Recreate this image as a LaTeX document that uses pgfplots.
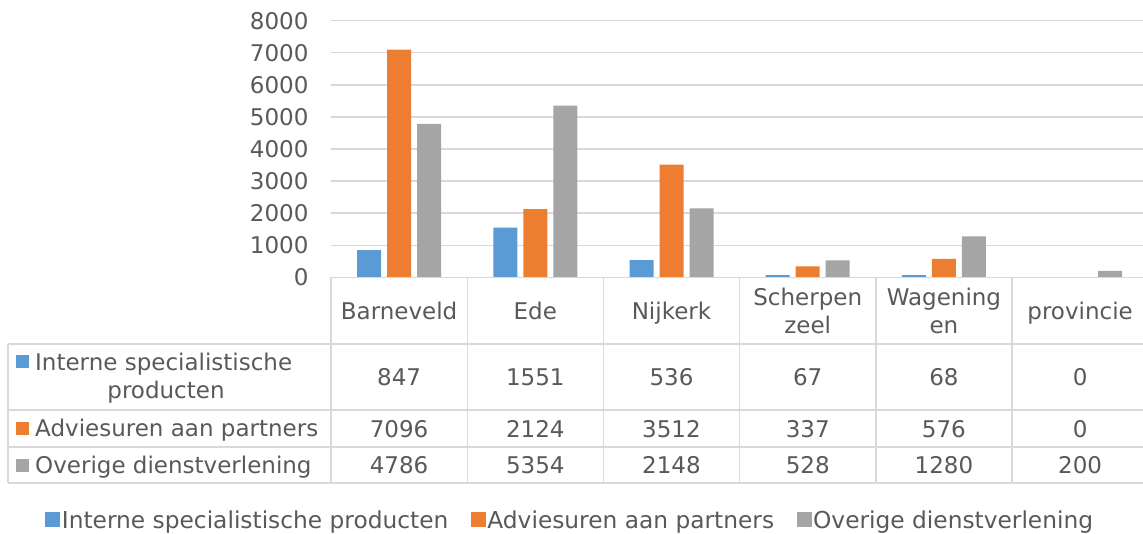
\documentclass[border=0pt]{standalone}
\usepackage{pgfplots}
\pgfplotsset{compat=1.18}
\usepackage{pgfplotstable}
\usepackage{fontspec}
\setmainfont{DejaVu Sans}

\definecolor{cblue}{HTML}{5B9BD5}
\definecolor{corange}{HTML}{ED7D31}
\definecolor{cgray}{HTML}{A5A5A5}
\definecolor{txt}{HTML}{595959}
\definecolor{rule}{HTML}{D9D9D9}

% hours per municipality
\pgfplotstableread{
idx isp adv ovr
0 847 7096 4786
1 1551 2124 5354
2 536 3512 2148
3 67 337 528
4 68 576 1280
5 0 0 200
}\data

\newcommand\tf{\fontsize{23bp}{28bp}\selectfont}

\begin{document}
\begin{tikzpicture}[font=\tf, text=txt]
\useasboundingbox (0bp,0bp) rectangle (1143bp,-534bp);
\begin{axis}[
  at={(331bp,-277.3bp)}, anchor=south west,
  scale only axis, width=817.2bp, height=256.6bp,
  ybar=6bp, bar width=24bp,
  xmin=-0.5, xmax=5.5, ymin=0, ymax=8000,
  xtick=\empty, ytick={0,1000,...,8000},
  axis line style={draw=none},
  major tick length=0pt,
  ymajorgrids, grid style={rule, line width=1.4bp},
  tick label style={font=\tf, text=txt},
  yticklabel style={xshift=-19bp},
  /pgf/number format/assume math mode=true,
  /pgf/number format/1000 sep={},
  scaled y ticks=false,
  clip=false,
  legend style={at={(0.2925,-0.9458)}, anchor=center, draw=none, fill=none,
    legend columns=3, font=\fontsize{23.3bp}{28bp}\selectfont, text=txt, nodes={inner sep=1.5bp},
    /tikz/every even column/.append style={column sep=21bp}},
  legend image code/.code={\fill[#1] (0bp,-7.5bp) rectangle (15bp,7.5bp);},
]
\addplot[fill=cblue, draw=none] table[x=idx, y=isp]{\data};
\addplot[fill=corange, draw=none] table[x=idx, y=adv]{\data};
\addplot[fill=cgray, draw=none] table[x=idx, y=ovr]{\data};
\legend{Interne specialistische producten, Adviesuren aan partners, Overige dienstverlening}
\end{axis}

\begin{scope}[x=1bp, y=-1bp]
% table rules
\draw[rule, line width=1.4bp] (331,277.3) -- (1150,277.3);
\draw[rule, line width=1.4bp] (8,344) -- (1150,344) (8,410) -- (1150,410)
  (8,447) -- (1150,447) (8,483) -- (1150,483) (8,344) -- (8,483);
\foreach \k in {0,...,6}
  \draw[rule, line width=1.4bp] ({331+136.2*\k},277.3) -- ({331+136.2*\k},483);
% header
\node[anchor=base] at (399.1,319.5) {Barneveld};
\node[anchor=base] at (535.3,319.5) {Ede};
\node[anchor=base] at (671.5,319.5) {Nijkerk};
\node[anchor=base] at (807.7,305) {Scherpen};
\node[anchor=base] at (807.7,333) {zeel};
\node[anchor=base] at (943.9,305) {Wagening};
\node[anchor=base] at (943.9,333) {en};
\node[anchor=base] at (1080.1,319.5) {provincie};
% row labels
\fill[cblue] (16,355) rectangle (29,368);
\fill[corange] (16,421.5) rectangle (29,434.5);
\fill[cgray] (16,458.5) rectangle (29,471.5);
\node[anchor=base west, inner sep=0] at (35,370) {Interne specialistische};
\node[anchor=base, inner sep=0] at (166,398.3) {producten};
\node[anchor=base west, inner sep=0] at (35,436.7) {Adviesuren aan partners};
\node[anchor=base west, inner sep=0] at (35,473.3) {Overige dienstverlening};
% values
\foreach \r in {0,...,5}{
  \pgfmathsetmacro\cx{331+136.2*(\r+0.5)}
  \pgfplotstablegetelem{\r}{isp}\of\data
  \node[anchor=base] at (\cx,385.5) {\pgfplotsretval};
  \pgfplotstablegetelem{\r}{adv}\of\data
  \node[anchor=base] at (\cx,437) {\pgfplotsretval};
  \pgfplotstablegetelem{\r}{ovr}\of\data
  \node[anchor=base] at (\cx,473.5) {\pgfplotsretval};
}
\end{scope}
\end{tikzpicture}
\end{document}
